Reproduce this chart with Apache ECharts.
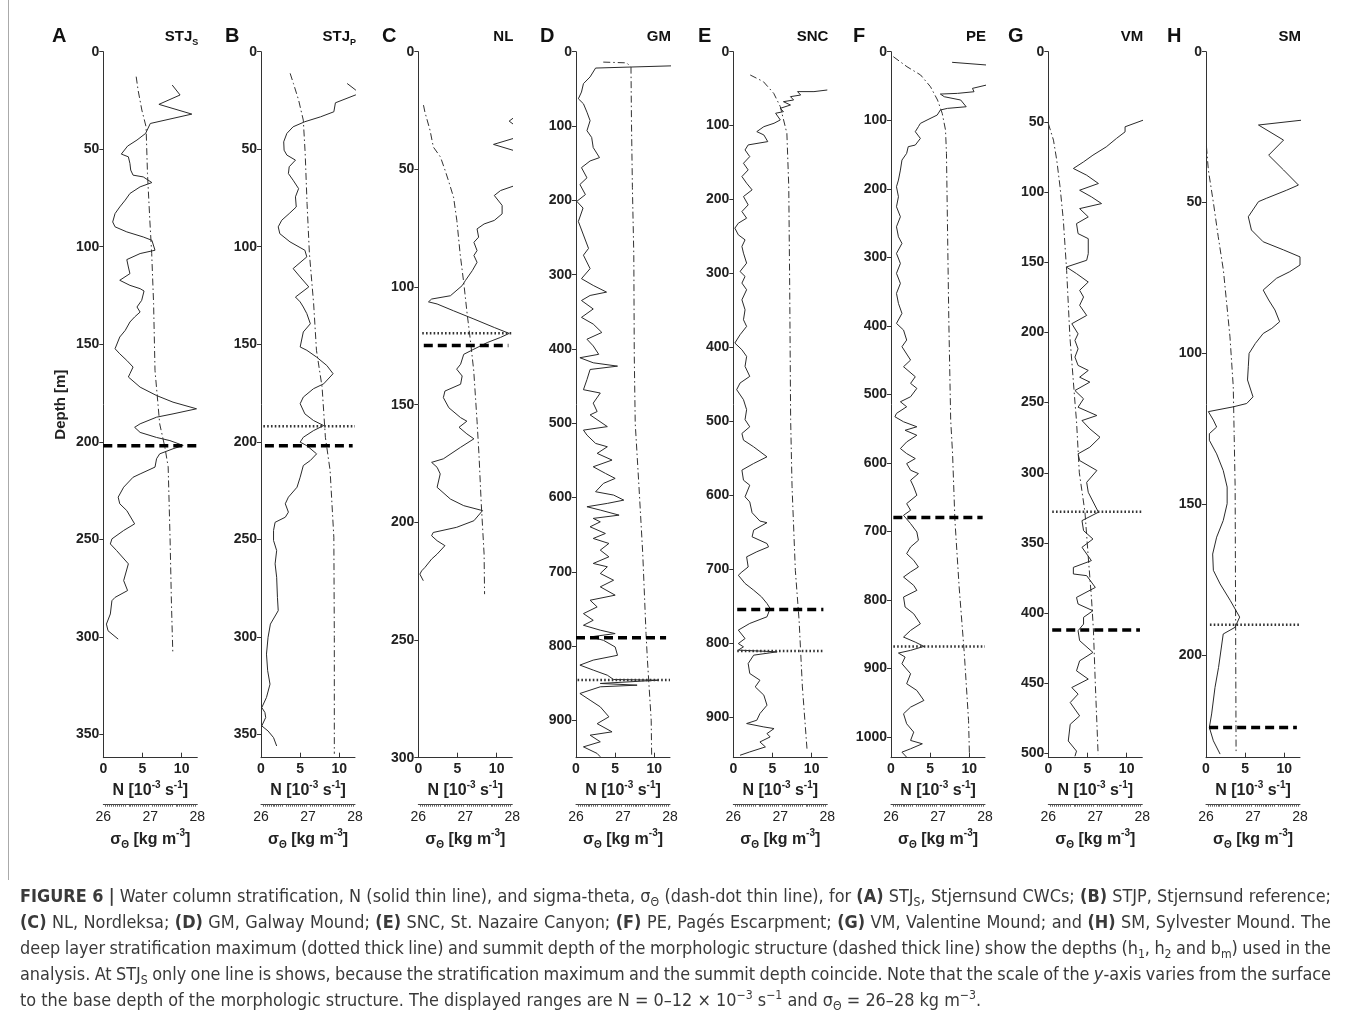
<!DOCTYPE html>
<html><head><meta charset="utf-8">
<script src="https://cdn.jsdelivr.net/npm/echarts@6/dist/echarts.min.js"></script>
<style>html,body{margin:0;padding:0;background:#fff}#c{width:1355px;height:1017px}</style>
</head><body><div id="c"></div>
<script>
// ---------------- DATA ----------------
const panelLetters = ['A','B','C','D','E','F','G','H'];
const siteNames = ['STJ{s|S}','STJ{s|P}','NL','GM','SNC','PE','VM','SM'];
const depthMax = [362,362,300,950,955,1030,503,234];
const depthStep = [50,50,50,100,100,100,50,50];
const nTicks = [0,5,10];
const sigmaTicks = [26,27,28];

// N profiles [N (1e-3 s-1), depth m]
const nA = [[8.8,17.1],[9.8,22.2],[7.1,27],[11.3,32],[6.0,36.8],[5.4,41.9],[4.3,45.3],[3.1,48.4],[2.3,52.5],[3.2,53.9],[3.4,57.3],[3.5,60.7],[3.8,63.3],[5.1,64.2],[6.2,67.1],[4.7,69.3],[3.4,72.7],[2.8,76.1],[2.1,79.6],[1.5,83],[1.2,87.3],[1.5,89.8],[3.0,92.4],[5.1,95],[6.2,96.7],[6.6,101.8],[4.7,103.5],[3.0,106.6],[3.2,110.4],[3.4,113.8],[2.1,117.2],[3.4,119.8],[4.7,121.5],[5.2,122.7],[4.9,127.5],[4.3,130.9],[4.7,133.5],[4.0,136],[3.4,138.6],[2.8,142.9],[2.1,146.3],[1.5,152.3],[2.1,154.9],[3.0,158.3],[3.8,161.7],[3.4,165.1],[3.2,166.8],[4.7,172],[6.8,176.3],[8.9,179.7],[11.9,183.1],[8.9,185.7],[6.8,187.4],[4.7,190.8],[4.0,192.6],[4.7,195.2],[6.8,197.8],[8.5,199.4],[10.2,201.9],[8.9,203.6],[7.2,206.2],[6.8,208.7],[6.6,213],[4.7,216.5],[3.8,218.2],[2.6,223.3],[1.9,228.4],[2.1,231.8],[3.0,235.3],[4.0,242.1],[2.6,245.5],[1.1,249.8],[0.9,252.4],[1.7,255.8],[3.2,262.6],[2.6,271.2],[3.1,276.3],[1.5,279.8],[1.1,281.5],[0.9,288.3],[0.4,293.5],[0.6,296.9],[1.9,301.2]];
const nB = [[11.0,16.3],[12.1,19.7],[14,21],[12.05,22.2],[9.5,26.2],[9.3,30.8],[7.6,33.4],[5.6,35.9],[4.1,38.5],[3.3,41.9],[2.9,46.2],[2.95,50.5],[3.3,53],[4.4,55.6],[3.6,59],[3.5,62.5],[4.1,65.9],[4.8,70.2],[4.4,74.4],[4.5,79.6],[3.6,83],[2.65,86.4],[2.2,89.8],[2.4,93.3],[3.7,97.5],[5.6,101.8],[5.85,105.2],[4.1,111.2],[5.0,115.5],[6.1,120.6],[4.4,125.8],[5.0,128.3],[5.4,130.9],[5.85,134.3],[6.3,139.5],[5.4,143.7],[5.0,151.4],[5.85,153.1],[7.1,156.6],[8.4,160.9],[9.2,165.1],[8.0,170.3],[6.7,172.8],[5.4,177.1],[5.0,180.5],[5.6,185.7],[6.7,189.1],[8.0,191.7],[6.7,194.3],[5.4,197.7],[5.0,200.2],[5.85,202],[7.1,206.2],[6.3,209.6],[5.4,212.2],[5.0,218.2],[4.6,223.3],[3.5,228.4],[3.1,231.8],[3.5,236.1],[3.1,238.7],[1.8,241.3],[1.6,245.5],[1.6,250.6],[2.0,255.8],[1.8,262.6],[2.0,269.5],[2.1,279.8],[2.2,286.6],[1.2,293.5],[0.9,300.3],[0.7,308.9],[0.85,317.4],[1.15,324.3],[0.7,331.1],[0.1,336.3],[0.5,338.8],[0.6,341.4],[0.1,345.7],[0.9,348.3],[1.6,351.7],[2.0,356]];
const nC = [[14,24],[12.4,27.5],[11.6,29.5],[12.4,31.5],[14,34],[12.4,36.6],[9.6,39.4],[12.4,42.2],[14,50],[12.4,56.8],[10.5,59],[9.7,61.1],[10.7,65.3],[10.7,68.9],[9.7,71.7],[8.4,73.2],[7.5,75.3],[7.7,78.8],[7.1,81],[7.5,84.5],[7.1,86.6],[7.5,89.5],[6.9,93],[6.0,97.3],[5.6,99.4],[4.1,103.7],[1.7,105.1],[1.3,106.3],[2.4,107.2],[4.5,110.1],[7.1,113.6],[9.7,117.2],[11.6,119.7],[10.5,121.4],[8.8,123.6],[7.1,126.4],[5.8,128.6],[5.4,132.8],[4.9,134.9],[5.6,137.8],[5.4,141.3],[3.4,144.2],[3.2,147],[3.9,151.3],[5.4,155.5],[6.2,157],[5.2,159.6],[6.2,162.4],[7.1,164.5],[5.4,168.1],[3.2,173],[1.7,174.5],[2.4,176.6],[2.8,179.4],[2.4,185.1],[4.1,190.1],[5.8,192.9],[8.2,195],[7.1,199.3],[4.9,202.1],[1.9,204.3],[1.7,205.7],[2.4,207.8],[3.4,209.9],[2.4,213.5],[1.7,215.6],[0.86,219.1],[0.43,220.6],[0.2,222],[0.64,224.8]];
const nD = [[13.5,16],[12.3,19],[2.5,22],[1.8,33.9],[0.95,43],[0.7,54.3],[0.3,63.3],[0.95,70.1],[1.4,81.4],[1.8,92.8],[1.4,106.3],[2.0,115.4],[2.2,129],[3.0,142.5],[1.8,147],[0.7,156],[1.4,169.7],[0.5,178.7],[1.2,192.3],[0.1,201.4],[0.9,210.4],[0.3,228.5],[0.95,246.6],[1.6,264.7],[0.95,273.8],[1.8,291.9],[0.7,305.4],[2.2,314.5],[3.9,323.5],[1.8,328],[0.7,334.8],[2.2,346.2],[0.7,357.5],[2.2,366.5],[3.3,377.8],[1.4,386.9],[2.2,395.9],[2.9,407.2],[0.5,411.8],[2.2,418.6],[5.3,423.1],[1.8,427.6],[1.4,441.2],[0.95,454.8],[3.1,459.3],[2.2,472.9],[2.7,484.2],[1.8,488.7],[4.0,504.5],[0.95,509.2],[1.4,515.9],[2.5,527.1],[4.0,531.6],[2.7,540.5],[4.6,549.5],[2.2,558.5],[3.75,567.4],[5.0,574.2],[3.5,580.9],[2.5,592.1],[4.8,596.6],[6.1,603.4],[4.0,607.8],[1.4,612.3],[3.1,616.8],[5.5,623.6],[2.2,628],[3.1,632.6],[1.8,639.3],[3.75,648.3],[2.2,655],[4.2,661.7],[3.1,670.7],[4.2,679.7],[2.2,688.6],[4.0,693.1],[3.1,702.1],[4.8,711.2],[3.1,720.1],[5.0,731.3],[1.8,738.1],[2.7,747.1],[0.95,756.1],[2.2,765.1],[0.95,771.8],[3.1,778.4],[5.0,783],[1.8,787.5],[3.5,792],[5.0,801],[5.3,812.2],[2.2,818.7],[0.5,825.4],[2.2,832.1],[4.0,839],[4.8,844.8],[10.5,845.7],[3.1,850.1],[7.8,852.4],[3.1,854.6],[0.5,863.6],[1.8,872.6],[3.1,881.6],[4.2,895],[2.7,904.2],[4.6,915.2],[1.8,919.7],[3.1,928.6],[0.95,935.4],[2.7,944.3],[3.1,948.8]];
const nE = [[12.0,51.8],[10.3,54],[8.2,54],[8.6,58.6],[7.3,60.8],[7.7,65.3],[6.4,67.6],[7.3,72.1],[6.0,76.6],[6.4,81.1],[5.4,83.3],[6.0,92.3],[5.2,96.8],[3.9,101.4],[3.0,108.1],[3.9,112.6],[4.4,121.6],[1.9,126.1],[1.5,132.9],[2.1,141.9],[1.3,150.9],[1.9,159.9],[1.1,168.9],[1.7,177.9],[2.4,186.9],[1.3,195.9],[1.9,207.2],[1.1,216.2],[1.7,225.2],[0.64,232],[0.2,238.7],[0.64,247.7],[1.5,254.5],[1.1,263.5],[1.3,272.5],[1.7,286],[0.86,297.3],[1.5,304],[1.1,313],[1.7,322],[1.1,335.6],[1.5,349.1],[1.3,362.6],[1.7,371.6],[0.86,382.9],[0.2,394.1],[1.1,403.2],[1.7,412.2],[1.5,425.7],[2.1,439.2],[0.86,448.2],[0.43,457.2],[1.3,470.7],[1.7,484.2],[1.5,497.7],[2.1,507.4],[1.1,516.4],[1.3,525.4],[2.6,534.5],[4.3,548],[2.6,557],[1.1,566],[1.3,579.6],[2.1,586.4],[1.5,602.1],[2.1,609],[2.4,623.6],[3.4,634.9],[4.3,637.1],[2.6,647.2],[2.4,656.2],[4.3,665.3],[4.5,669.8],[3.0,676.4],[1.7,683.3],[1.9,697],[1.1,703.7],[0.64,708.2],[1.5,719.3],[2.6,728.4],[3.6,737.4],[4.3,746.4],[4.7,753.1],[4.3,764.4],[2.1,773.4],[0.64,782.4],[1.5,793.8],[0.64,800.6],[1.3,805],[0.64,809.5],[5.6,811.8],[2.6,816.3],[1.9,827.6],[2.1,841.1],[3.4,850.2],[2.8,859.2],[3.9,870.4],[4.3,884],[3.4,895.3],[3.0,904.3],[1.7,908.8],[3.9,913.4],[5.2,915.6],[4.3,922.4],[4.7,926.9],[3.4,933.7],[4.1,940.4],[2.1,947.2],[0.86,951.7]];
const nF = [[7.8,15.5],[12.3,19.5],[14,30],[12.2,48.6],[10.4,53.5],[10.6,58.4],[8.5,60.8],[6.3,61.8],[6.8,65.7],[8.9,70.5],[9.6,80.3],[7.2,82.7],[6.3,85.1],[5.9,92.4],[4.6,99.7],[3.75,104.6],[3.5,109.4],[3.1,116.7],[3.75,126.5],[3.1,136.2],[2.2,138.6],[2.0,148.3],[1.4,158.1],[1.2,172.7],[0.95,187.3],[0.7,197],[0.95,211.6],[0.7,226.2],[1.2,240.8],[0.7,255.4],[0.95,270],[1.4,279.7],[0.7,294.3],[1.2,308.9],[0.7,323.4],[1.2,338],[0.7,352.6],[0.95,367.2],[1.4,381.8],[0.7,396.4],[1.6,406.1],[2.0,420.7],[1.4,430.4],[2.5,449.9],[1.6,459.6],[3.1,474.2],[2.5,483.9],[3.3,491.2],[2.5,503.4],[1.2,510.7],[2.0,518],[0.7,527.7],[0.5,532.6],[1.6,539.9],[3.3,547.2],[1.8,552.3],[3.3,559.6],[2.0,569.3],[1.2,579],[2.0,586.3],[3.1,593.6],[2.0,600.9],[2.5,610.6],[3.5,615.5],[2.5,625.2],[2.9,635],[3.3,647.1],[2.0,659.3],[2.5,669],[1.6,676.4],[2.5,688.5],[3.3,700.7],[3.5,712.8],[2.5,722.6],[2.0,732.3],[2.9,742],[3.5,751.8],[2.5,759],[1.6,766.4],[2.9,778.6],[3.3,785.9],[1.6,795.6],[1.8,810.2],[2.9,820],[3.75,834.6],[2.5,844.3],[1.6,854],[3.1,861.4],[4.2,867.6],[2.5,873.4],[0.95,877.3],[1.8,883.2],[1.4,892.9],[2.5,907.5],[2.0,922.1],[3.3,931.9],[4.2,946.5],[2.5,956.2],[1.6,965.9],[2.0,980.5],[2.9,992.7],[2.5,1004.8],[4.0,1009.7],[2.5,1017],[1.4,1021.9],[2.0,1029.3]];
const nG = [[12.1,48.8],[9.8,53.5],[9.8,57.1],[8.7,61.8],[7.4,67.8],[5.7,73.7],[4.5,78.5],[3.2,83.2],[4.9,88],[6.4,93.9],[4.0,98.7],[5.5,103.4],[6.8,108.2],[4.0,111.8],[5.1,117.7],[3.6,122.5],[3.8,129.6],[5.1,133.2],[5.1,143.9],[4.9,148.6],[2.3,153.4],[3.6,158.1],[5.1,164.1],[4.0,170],[4.5,174.8],[4.0,180.7],[4.9,187.9],[3.0,193.8],[3.8,201],[3.4,205.7],[3.8,211.7],[3.4,217.6],[3.8,223.5],[5.1,227.1],[4.0,231.9],[5.3,235.4],[3.4,241.4],[4.5,247.3],[3.8,253.3],[6.2,259.2],[4.3,262.8],[5.3,268.7],[6.6,274.7],[5.3,281.8],[3.8,286.5],[4.0,291.3],[6.2,298.4],[4.9,306.8],[5.1,313.9],[6.4,328.1],[4.3,334.1],[4.5,341.2],[5.7,347.2],[4.3,353.1],[5.5,362.6],[3.2,367.4],[3.2,372.1],[4.9,373.3],[6.0,381.7],[3.6,388.8],[3.8,393.5],[5.7,398.3],[4.5,403],[4.5,407.8],[3.8,412.5],[4.0,419.6],[5.7,428],[4.0,434],[3.6,441.1],[5.1,447],[3.0,453],[3.8,457.7],[2.8,463.7],[4.0,473.2],[2.8,479.2],[2.55,491.1],[3.6,498.3],[3.4,502]];
const nH = [[12.2,22.7],[6.7,24.3],[9.9,29.3],[8.0,34.3],[9.9,39.2],[11.8,44.2],[10.3,45.9],[7.7,48.6],[6.7,49.7],[5.4,54.7],[5.8,59.1],[7.3,63],[9.9,65.7],[12.0,68],[12.0,70.7],[10.7,72.9],[9.0,75.1],[7.3,79],[8.0,82.3],[8.8,85.6],[9.4,89.5],[8.4,91.7],[7.3,93.4],[6.3,96.7],[5.5,100],[5.4,104.4],[5.3,108.8],[6.0,114.4],[5.2,116.6],[3.5,117.7],[0.3,119.3],[0.94,122.1],[1.36,124.4],[0.43,126.6],[0.43,128.8],[1.36,133.3],[2.2,138.8],[2.7,144.3],[2.7,149.8],[2.2,155.4],[1.36,160.9],[0.85,166.5],[0.94,171.9],[1.8,176.4],[3.1,181.9],[4.3,187.4],[3.7,190.8],[2.2,193],[1.6,204.1],[1.15,210.7],[0.72,219.5],[0.43,224],[0.94,228.4],[1.8,232.8]];

// sigma-theta profiles [sigma (kg m-3), depth m]
const sA = [[26.70,12.8],[26.74,19.7],[26.82,29.9],[26.91,38.5],[26.94,62.5],[26.99,86.4],[27.03,103.5],[27.07,129],[27.1,163.4],[27.2,190.8],[27.31,202.8],[27.38,212.8],[27.42,249],[27.45,283],[27.48,309]];
const sB = [[26.62,11.1],[26.69,16.3],[26.8,24.8],[26.9,35.1],[26.94,52.2],[26.98,77.9],[27.03,103.5],[27.12,129.2],[27.18,153.1],[27.3,172],[27.37,197.7],[27.47,214.7],[27.55,249],[27.56,300.3],[27.56,360]];
const sC = [[26.11,22.7],[26.14,25.6],[26.25,33.4],[26.32,40.5],[26.47,44.7],[26.57,50.4],[26.64,54.7],[26.75,61.8],[26.82,71.7],[26.89,85.9],[26.97,98.7],[27.04,111.5],[27.11,122.9],[27.18,135.7],[27.25,157],[27.29,170.9],[27.34,192.2],[27.4,213.5],[27.41,230.5]];
const sD = [[26.58,14],[27.08,15],[27.17,21],[27.18,92.8],[27.2,183],[27.23,273.8],[27.24,409.5],[27.26,500],[27.34,585.4],[27.42,675.2],[27.49,783],[27.52,818.7],[27.6,899.5],[27.61,948.8]];
const sE = [[26.36,31.5],[26.64,40.5],[26.86,56.3],[27.0,74.3],[27.07,92.3],[27.14,110.4],[27.18,182.4],[27.2,317.6],[27.22,497.7],[27.25,588.6],[27.32,701.5],[27.4,769.2],[27.47,859.2],[27.57,944.9]];
const sF = [[26.05,7.3],[26.34,21.9],[26.63,34],[26.84,51.1],[26.99,70.5],[27.09,90],[27.16,114.3],[27.18,148.3],[27.2,245.6],[27.23,391.5],[27.27,537.5],[27.31,586.3],[27.36,683.6],[27.45,781],[27.56,878.3],[27.65,975.6],[27.67,1029]];
const sG = [[26.0,51.1],[26.11,63],[26.18,77.3],[26.25,96.3],[26.32,120.1],[26.39,155.8],[26.46,203.3],[26.57,250.9],[26.6,263],[26.66,300],[26.78,328],[26.85,360],[26.92,390],[26.96,412],[27.0,450],[27.06,500.6]];
const sH = [[26.01,31.5],[26.05,39.2],[26.16,50.3],[26.26,61.3],[26.37,72.4],[26.44,83.4],[26.51,94.5],[26.58,111],[26.6,127.6],[26.62,144.3],[26.63,188.5],[26.64,232.8]];

// deep-layer stratification maximum (dotted) and summit depth (dashed), m
const dottedDepth = [null,192,119.6,845.6,810.5,867.6,327.8,189.9];
const dashedDepth = [202,202,124.8,788.7,754.5,679.7,412,224];
const dottedSpan = [null,[0.3,12],[0.5,12],[0.2,12],[0.5,11.5],[0.3,12],[0.5,12],[0.5,12]];
const dashedSpan = [[0,12],[0.5,11.7],[0.7,11.5],[0,11.5],[0.5,11.5],[0.3,11.7],[0.5,11.7],[0.4,11.6]];

const captionLines = [
 '{b|FIGURE 6} {b||} Water column stratification, N (solid thin line), and sigma-theta, σ{sub|Θ} (dash-dot thin line), for {b|(A)} STJ{sub|S}, Stjernsund CWCs; {b|(B)} STJP, Stjernsund reference;',
 '{b|(C)} NL, Nordleksa; {b|(D)} GM, Galway Mound; {b|(E)} SNC, St. Nazaire Canyon; {b|(F)} PE, Pagés Escarpment; {b|(G)} VM, Valentine Mound; and {b|(H)} SM, Sylvester Mound. The',
 'deep layer stratification maximum (dotted thick line) and summit depth of the morphologic structure (dashed thick line) show the depths (h{sub|1}, h{sub|2} and b{sub|m}) used in the',
 'analysis. At STJ{sub|S} only one line is shows, because the stratification maximum and the summit depth coincide. Note that the scale of the {i|y}-axis varies from the surface',
 'to the base depth of the morphologic structure. The displayed ranges are N = 0–12 × 10{sup|−3} s{sup|−1} and σ{sub|Θ}  = 26–28 kg m{sup|−3}.'
];

// ---------------- LAYOUT / STYLE ----------------
const nData = [nA,nB,nC,nD,nE,nF,nG,nH];
const sData = [sA,sB,sC,sD,sE,sF,sG,sH];
const gridLeft = [103.3,261,418.3,576,733.3,891,1048.3,1206];
const gridW = 94, gridTop = 51.7, gridH = 706;
const letterX = [52,225,382,540,698,853,1008,1167];
const FF = "'Liberation Sans', Arial, Helvetica, sans-serif";
const CF = "'DejaVu Sans Condensed','Liberation Sans Narrow','Liberation Sans',sans-serif";
const INK = '#222';
const plain = v => String(v);

const grids=[], xAxes=[], yAxes=[], series=[], graphics=[];
for (let i=0;i<8;i++){
  grids.push({left:gridLeft[i], top:gridTop, width:gridW, height:gridH});
  const tickVals=[]; for(let v=0; v<=depthMax[i]; v+=depthStep[i]) tickVals.push(v);
  xAxes.push({gridIndex:i, type:'value', min:0, max:12, position:'bottom',
    axisLine:{show:true,onZero:false,lineStyle:{color:'#333',width:1}},
    axisTick:{show:true,inside:true,length:5,customValues:nTicks,lineStyle:{color:'#333'}},
    axisLabel:{customValues:nTicks,formatter:plain,color:INK,fontWeight:'bold',fontSize:14,fontFamily:FF,margin:4},
    splitLine:{show:false},
    name:'{n|N [10}{sup|-3}{n| s}{sup|-1}{n|]}', nameLocation:'middle', nameGap:20,
    nameTextStyle:{fontFamily:FF, rich:{
      n:{fontSize:16,fontWeight:'bold',color:INK,fontFamily:FF,lineHeight:20},
      sup:{fontSize:10,fontWeight:'bold',color:INK,fontFamily:FF,verticalAlign:'top',lineHeight:20}}}
  });
  xAxes.push({gridIndex:i, type:'value', min:26, max:28, position:'bottom', offset:47,
    axisLine:{show:true,onZero:false,lineStyle:{color:'#444',width:1}},
    axisTick:{show:false},
    minorTick:{show:true,splitNumber:12,length:2,lineStyle:{color:'#666',width:1}},
    axisLabel:{customValues:sigmaTicks,formatter:plain,color:INK,fontSize:14,fontFamily:FF,margin:5},
    splitLine:{show:false},
    name:'{n|σ}{sub|Θ}{n| [kg m}{sup|-3}{n|]}', nameLocation:'middle', nameGap:21,
    nameTextStyle:{fontFamily:FF, rich:{
      n:{fontSize:16,fontWeight:'bold',color:INK,fontFamily:FF,lineHeight:20},
      sub:{fontSize:10,fontWeight:'bold',color:INK,fontFamily:FF,verticalAlign:'bottom',lineHeight:22},
      sup:{fontSize:10,fontWeight:'bold',color:INK,fontFamily:FF,verticalAlign:'top',lineHeight:20}}}
  });
  const ya = {gridIndex:i, type:'value', inverse:true, min:0, max:depthMax[i],
    axisLine:{show:true,onZero:false,lineStyle:{color:'#333',width:1}},
    axisTick:{show:true,length:4,customValues:tickVals,lineStyle:{color:'#333'}},
    axisLabel:{customValues:tickVals,formatter:plain,color:INK,fontWeight:'bold',fontSize:14,fontFamily:FF,margin:4},
    splitLine:{show:false}};
  if (i===0){ Object.assign(ya,{name:'Depth [m]',nameLocation:'middle',nameRotate:90,nameGap:35,
    nameTextStyle:{color:INK,fontWeight:'bold',fontSize:15,fontFamily:FF}}); }
  yAxes.push(ya);

  series.push({type:'line', xAxisIndex:2*i, yAxisIndex:i, data:nData[i], showSymbol:false, symbol:'none',
    lineStyle:{color:'#2a2a2a',width:1}, silent:true, z:3});
  series.push({type:'line', xAxisIndex:2*i+1, yAxisIndex:i, data:sData[i], showSymbol:false, symbol:'none',
    lineStyle:{color:'#333',width:1,type:[7,3,1.5,3]}, silent:true, z:2});
  if (dottedDepth[i]!==null){
    series.push({type:'line', xAxisIndex:2*i, yAxisIndex:i, showSymbol:false, symbol:'none', silent:true, z:4,
      data:[[dottedSpan[i][0],dottedDepth[i]],[dottedSpan[i][1],dottedDepth[i]]],
      lineStyle:{color:'#333',width:2.5,type:[1.6,2.2]}});
  }
  series.push({type:'line', xAxisIndex:2*i, yAxisIndex:i, showSymbol:false, symbol:'none', silent:true, z:5,
    data:[[dashedSpan[i][0],dashedDepth[i]],[dashedSpan[i][1],dashedDepth[i]]],
    lineStyle:{color:'#000',width:3.5,type:[9,5]}});

  graphics.push({type:'text', left:letterX[i], top:26, style:{text:panelLetters[i], fill:'#111', font:"bold 20px "+FF}});
  graphics.push({type:'text', right:1355-(gridLeft[i]+gridW)-1, top:29, style:{text:siteNames[i], fill:'#111',
    font:"bold 15px "+FF, rich:{s:{fontSize:9,fontWeight:'bold',fill:'#111',fontFamily:FF,verticalAlign:'bottom',lineHeight:22}}}});
}

// ---- caption (justified word placement, font size fitted to first line) ----
const capLeft=20, capRight=1331, capY0=897, capDY=26;
const ctx = document.createElement('canvas').getContext('2d');
function splitWords(line){
  const out=[]; let cur='', depth=0;
  for(const ch of line){ if(ch==='{')depth++; if(ch==='}')depth--;
    if(ch===' '&&depth===0){ if(cur) out.push(cur); cur=''; } else cur+=ch; }
  if(cur) out.push(cur); return out;
}
function makeStyles(fs){
  const base={fontSize:fs,fontFamily:CF,fontWeight:'normal',fontStyle:'normal'};
  const sub=Math.round(fs*0.68*10)/10;
  return {base, rich:{b:{fontWeight:'bold'}, sub:{fontSize:sub,verticalAlign:'bottom'}, sup:{fontSize:sub,verticalAlign:'top'}, i:{fontStyle:'italic'}}};
}
function fnt(st){return st.fontStyle+' '+st.fontWeight+' '+st.fontSize+'px '+st.fontFamily;}
function measureWord(w,S){
  let tot=0; const re=/\{(\w+)\|([^}]*)\}|([^{]+)/g; let m;
  while((m=re.exec(w))){ const st=Object.assign({},S.base); let t;
    if(m[1]){Object.assign(st,S.rich[m[1]]); t=m[2];} else t=m[3];
    ctx.font=fnt(st); tot+=ctx.measureText(t).width; }
  return tot;
}
function naturalWidth(line,S){
  const words=splitWords(line); ctx.font=fnt(S.base); const sp=ctx.measureText(' ').width;
  return words.reduce((a,w)=>a+measureWord(w,S),0)+sp*(words.length-1);
}
const fs0=16; const w0=naturalWidth(captionLines[0],makeStyles(fs0));
const capFS=Math.max(13,Math.min(19,Math.round(fs0*(capRight-capLeft)/w0*10)/10));
const S=makeStyles(capFS);
const richStyles={};
for(const k in S.rich){ richStyles[k]=Object.assign({fill:'#3a3a3a',fontFamily:CF,fontSize:capFS,lineHeight:capFS+5},S.rich[k]); }
captionLines.forEach((line,li)=>{
  const words=splitWords(line); const ws=words.map(w=>measureWord(w,S));
  const sum=ws.reduce((a,b)=>a+b,0);
  ctx.font=fnt(S.base); const sp=ctx.measureText(' ').width;
  const gap=(li<captionLines.length-1)?(capRight-capLeft-sum)/(words.length-1):sp;
  let x=capLeft;
  words.forEach((w,k)=>{
    graphics.push({type:'text', x:x, y:capY0+li*capDY, silent:true,
      style:{text:w, fill:'#3a3a3a', fontSize:capFS, fontFamily:CF, lineHeight:capFS+5, verticalAlign:'middle', textVerticalAlign:'middle', align:'left', rich:richStyles}});
    x+=ws[k]+gap;
  });
});
graphics.push({type:'line', silent:true, shape:{x1:8.5,y1:0,x2:8.5,y2:880}, style:{stroke:'#aaa',lineWidth:1}});

const chart = echarts.init(document.getElementById('c'));
chart.setOption({animation:false, backgroundColor:'#fff', textStyle:{fontFamily:FF},
  grid:grids, xAxis:xAxes, yAxis:yAxes, series:series, graphic:{elements:graphics}});
</script></body></html>
